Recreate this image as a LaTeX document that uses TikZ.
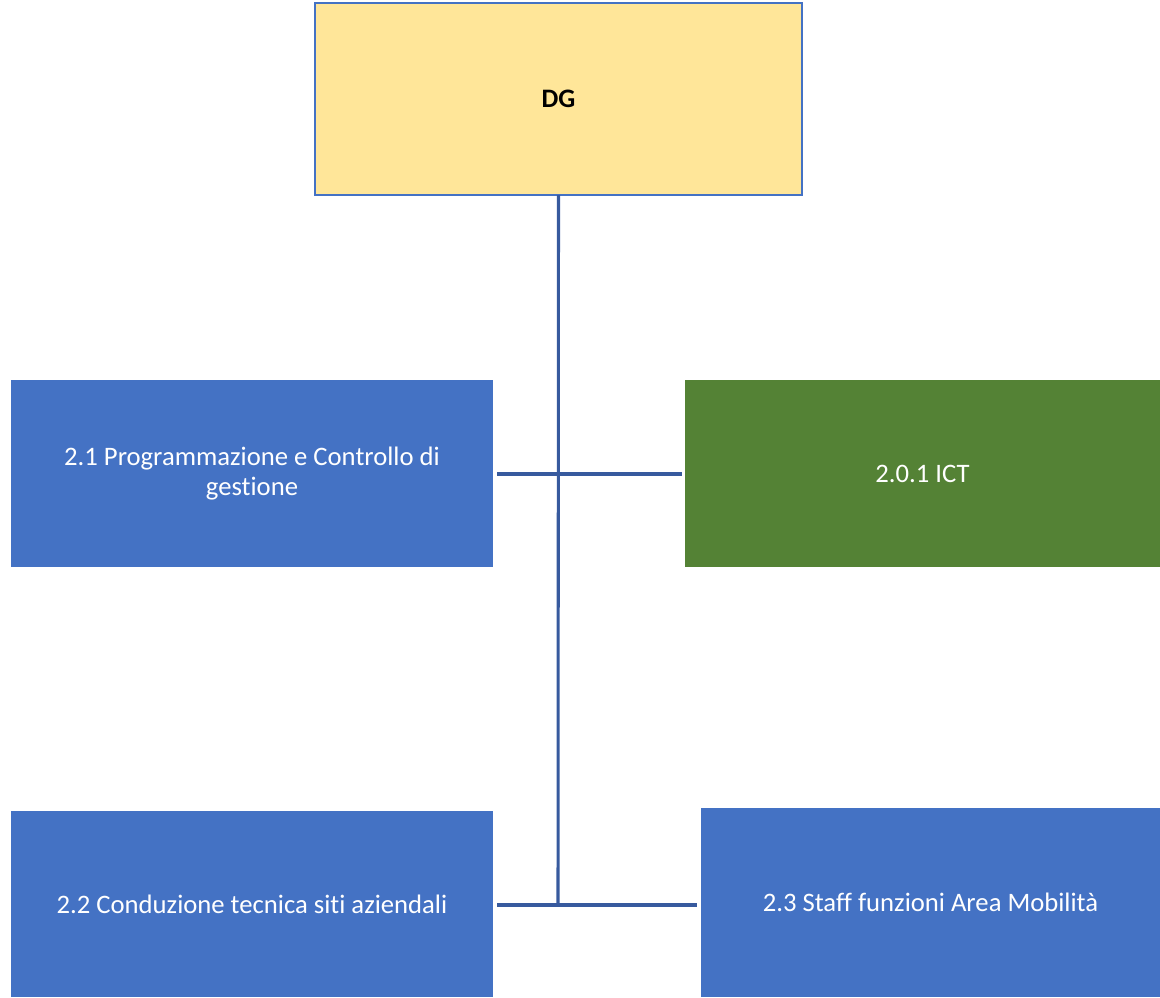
\documentclass[tikz,border=0pt]{standalone}
\usepackage{fontspec}
\setmainfont{Carlito}[Ligatures=CommonOff]
\definecolor{dgfill}{RGB}{255,230,153}
\definecolor{dgedge}{RGB}{68,114,196}
\definecolor{unitblue}{RGB}{68,114,196}
\definecolor{unitgreen}{RGB}{84,130,53}
\definecolor{linkline}{RGB}{55,90,158}
\begin{document}
\begin{tikzpicture}[x=0.75pt,y=-0.75pt,
  every node/.style={font=\fontsize{20}{22}\selectfont, align=center, inner sep=0pt, outer sep=0pt},
  dgbox/.style={draw=dgedge, line width=2pt, fill=dgfill, text=black, font=\fontsize{20}{22}\selectfont\bfseries},
  unitbox/.style={fill=unitblue, text=white},
  ictbox/.style={fill=unitgreen, text=white},
  link/.style={draw=linkline, line width=2.3pt}
]
\useasboundingbox (0,0) rectangle (1160,997);

% top management box
\node[dgbox, minimum width=487*0.75pt, minimum height=192*0.75pt] (dg) at (558.5,99) {DG};

% units
\node[unitbox, minimum width=482*0.75pt, minimum height=187*0.75pt] (pcg) at (252,473.5)
  {2.1 Programmazione e Controllo di\\gestione};
\node[ictbox, minimum width=475*0.75pt, minimum height=187*0.75pt] (ict) at (922.5,473.5)
  {2.0.1 ICT};
\node[unitbox, minimum width=482*0.75pt, minimum height=186*0.75pt] (cts) at (252,904)
  {2.2 Conduzione tecnica siti aziendali};
\node[unitbox, minimum width=459*0.75pt, minimum height=189*0.75pt] (staff) at (930.5,902.5)
  {2.3 Staff funzioni Area Mobilità};

% connectors
\coordinate (jtop) at (558,474);
\coordinate (jbot) at (558,905);
\draw[link] (dg.south) -- (jbot);
\draw[link] ([xshift=3pt]pcg.east |- jtop) -- ([xshift=-2.2pt]ict.west |- jtop);
\draw[link] ([xshift=3pt]cts.east |- jbot) -- ([xshift=-3pt]staff.west |- jbot);
\end{tikzpicture}
\end{document}
